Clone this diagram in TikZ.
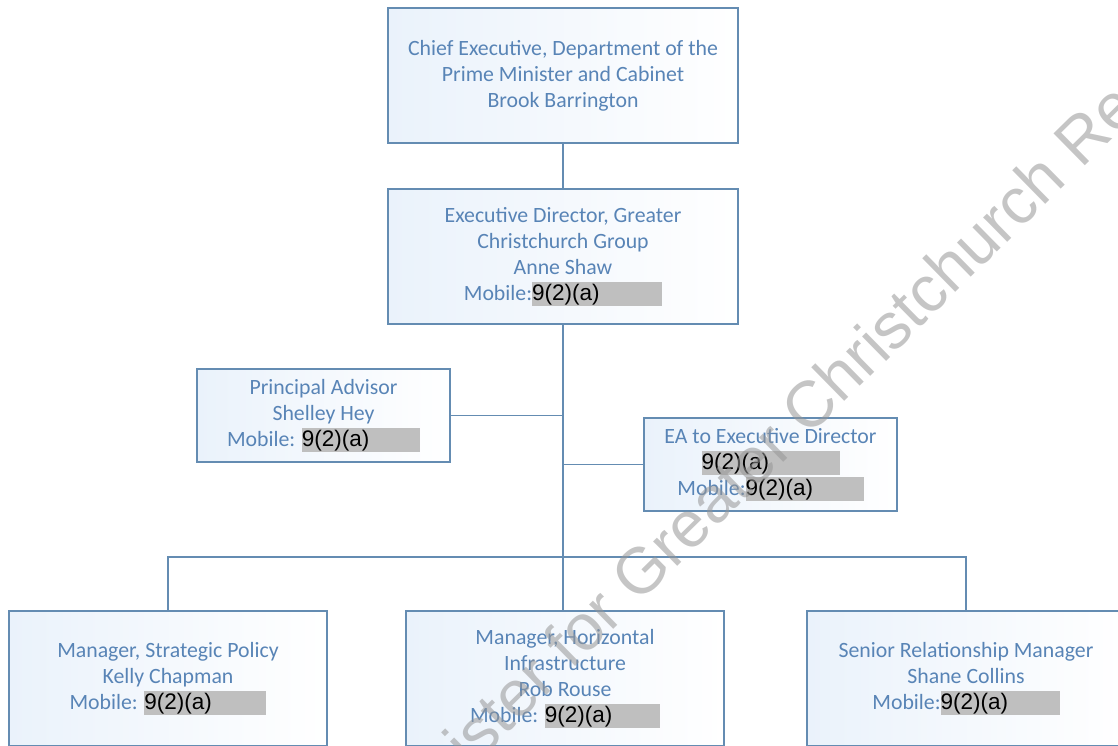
\documentclass[tikz,border=0pt]{standalone}
\usepackage{fontspec}
\setmainfont{Carlito}
\newfontfamily\redfont{Liberation Sans}
\usepackage{xcolor}
\definecolor{boxline}{RGB}{100,140,178}
\definecolor{boxtext}{RGB}{88,132,182}
\definecolor{boxtint}{RGB}{234,242,251}
\definecolor{redgrey}{RGB}{191,191,191}
\definecolor{wmgrey}{RGB}{150,150,150}
% grey redaction field of a given width
\newcommand\redact[1]{{\setlength{\fboxsep}{0pt}%
  \colorbox{redgrey}{\makebox[#1pt][l]{\rule[-5pt]{0pt}{24pt}%
  \redfont\fontsize{22.5}{26}\selectfont\color{black}9(2)(a)}}}}

\begin{document}
\begin{tikzpicture}[x=1pt, y=-1pt,
    B/.style = {rectangle, draw=boxline, line width=1.5pt,% boxes of the chart
                left color=boxtint, right color=white,
                text=boxtext, align=center, inner sep=0pt,
                font=\fontsize{21.8}{26}\selectfont},
  big/.style = {B, minimum width=350, minimum height=135},
  low/.style = {B, minimum width=318, minimum height=135},
small/.style = {B, minimum width=253, minimum height=93},
 link/.style = {draw=boxline, line width=1.5pt},
wmark/.style = {text=wmgrey, text opacity=0.55, rotate=44.5, anchor=base west,
                font=\redfont\fontsize{65}{70}\selectfont},
                        ]
\useasboundingbox (0,0) rectangle (1118,745);
\clip (0,0) rectangle (1118,745);
% top of the chart
\node[big] (ce) at (563,75.5) {Chief Executive, Department of the\\
    Prime Minister and Cabinet\\ Brook Barrington};
\node[big] (ed) at (563,256.5) {Executive Director, Greater\\
    Christchurch Group\\ Anne Shaw\\ Mobile:\redact{130}};
% advisors
\node[small] (pa) at (323.5,415.5) {Principal Advisor\\ Shelley Hey\\
    Mobile: \redact{118}};
\node[small] (ea) at (770.5,464.5) {EA to Executive Director\\
    \redact{138}\\ Mobile:\redact{118}};
% managers
\node[low] (msp) at (168,678.5) {Manager, Strategic Policy\\
    Kelly Chapman\\ Mobile: \redact{122}};
\node[low] (mhi) at (565,678.5) {Manager, Horizontal\\ Infrastructure\\
    Rob Rouse\\ Mobile: \redact{115}};
\node[low] (srm) at (966,678.5) {Senior Relationship Manager\\
    Shane Collins\\ Mobile:\redact{119}};
\coordinate (bus) at (565,557);
% connectors
\draw[link] (ce) -- (ed);
\draw[link] (ed.south) -- (ed.south |- mhi.north);
\draw[link] (pa.east) -- (pa.east -| ed.south);
\draw[link] (ea.west) -- (ea.west -| ed.south);
\draw[link] (msp.north) |- (bus) -| (srm.north);
% watermark
\node[wmark] (wm) at (569,673) {\llap{Minister }for Greater Christchurch Re};
\end{tikzpicture}
\end{document}
